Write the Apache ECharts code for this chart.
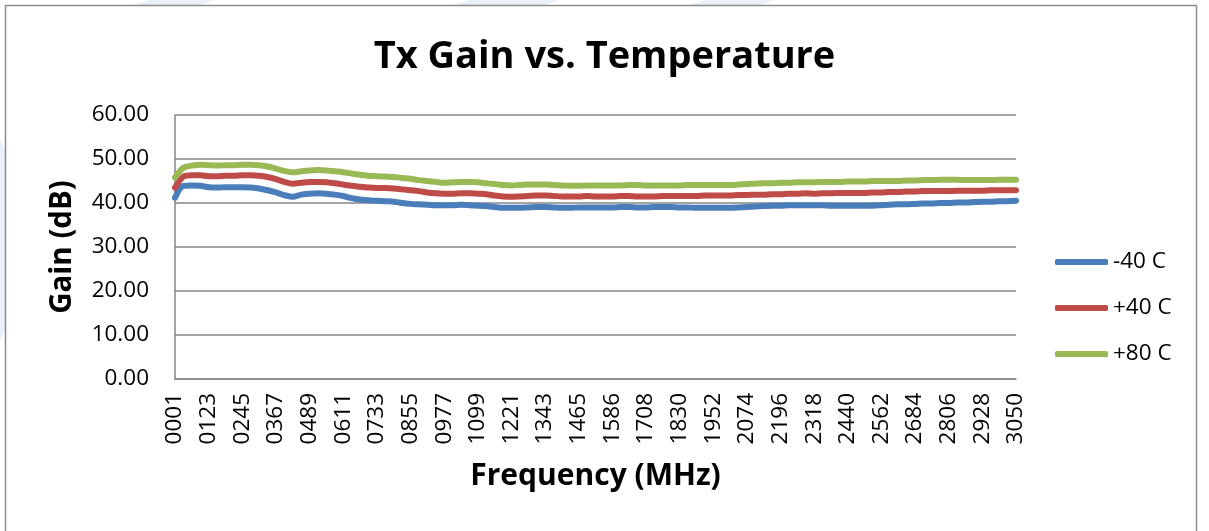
<!DOCTYPE html>
<html>
<head>
<meta charset="utf-8">
<script src="https://cdn.jsdelivr.net/npm/echarts@6/dist/echarts.min.js"></script>
<style>
html,body{margin:0;padding:0;background:#fff;}
#chart{width:1209px;height:531px;}
</style>
</head>
<body>
<div id="chart"></div>
<script>
// Frequency categories (MHz)
const categories = [
'0001','0031','0062','0092',
'0123','0153','0184','0214',
'0245','0275','0306','0336',
'0367','0397','0428','0458',
'0489','0519','0550','0580',
'0611','0641','0672','0702',
'0733','0763','0794','0824',
'0855','0885','0916','0946',
'0977','1007','1038','1068',
'1099','1129','1160','1190',
'1221','1251','1282','1312',
'1343','1373','1404','1434',
'1465','1495','1525','1556',
'1586','1616','1647','1677',
'1708','1738','1769','1799',
'1830','1860','1891','1921',
'1952','1982','2013','2043',
'2074','2104','2135','2165',
'2196','2226','2257','2287',
'2318','2348','2379','2409',
'2440','2470','2501','2531',
'2562','2592','2623','2653',
'2684','2714','2745','2775',
'2806','2836','2867','2897',
'2928','2958','2989','3019',
'3050'];

const seriesNames = ['-40 C', '+40 C', '+80 C'];

const gainM40 = [
41.2,43.9,44.0,43.9,43.6,43.5,43.6,43.6,43.6,43.5,
43.3,42.9,42.4,41.8,41.4,41.9,42.1,42.2,42.1,41.9,
41.6,41.1,40.8,40.6,40.5,40.4,40.3,40.0,39.8,39.7,
39.6,39.5,39.5,39.5,39.6,39.5,39.4,39.3,39.1,38.9,
38.9,38.9,39.0,39.1,39.1,39.0,38.9,38.9,39.0,39.0,
39.0,39.0,39.0,39.1,39.1,39.0,39.0,39.1,39.1,39.1,
39.0,39.0,38.9,38.9,38.9,38.9,38.9,39.0,39.1,39.2,
39.3,39.4,39.4,39.5,39.5,39.5,39.5,39.5,39.4,39.4,
39.4,39.4,39.4,39.4,39.5,39.6,39.7,39.7,39.8,39.9,
39.9,40.0,40.0,40.1,40.1,40.2,40.3,40.3,40.4,40.4,
40.5];

const gainP40 = [
43.5,46.0,46.3,46.3,46.1,46.1,46.2,46.2,46.3,46.3,
46.2,45.9,45.4,44.8,44.4,44.6,44.8,44.8,44.7,44.5,
44.2,43.9,43.7,43.5,43.4,43.4,43.3,43.1,42.9,42.7,
42.4,42.2,42.1,42.1,42.2,42.2,42.1,42.0,41.7,41.5,
41.4,41.5,41.6,41.7,41.7,41.6,41.5,41.5,41.5,41.6,
41.5,41.5,41.5,41.6,41.6,41.5,41.5,41.5,41.6,41.6,
41.6,41.6,41.6,41.7,41.7,41.7,41.7,41.8,41.8,41.9,
41.9,42.0,42.0,42.1,42.1,42.2,42.1,42.2,42.2,42.3,
42.3,42.3,42.3,42.4,42.4,42.5,42.5,42.6,42.6,42.7,
42.7,42.7,42.7,42.8,42.8,42.8,42.8,42.9,42.9,42.9,
42.9];

const gainP80 = [
45.8,48.0,48.5,48.7,48.6,48.5,48.6,48.6,48.7,48.7,
48.6,48.3,47.8,47.3,47.0,47.2,47.4,47.5,47.4,47.2,
47.0,46.7,46.4,46.2,46.1,46.0,45.9,45.7,45.5,45.2,
45.0,44.8,44.6,44.7,44.8,44.8,44.7,44.5,44.3,44.1,
44.0,44.1,44.2,44.2,44.2,44.1,44.0,43.9,43.9,44.0,
44.0,44.0,44.0,44.0,44.1,44.1,44.0,44.0,44.0,44.0,
44.0,44.1,44.1,44.1,44.1,44.1,44.1,44.2,44.3,44.4,
44.5,44.5,44.6,44.6,44.7,44.7,44.7,44.8,44.8,44.8,
44.9,44.9,44.9,45.0,45.0,45.0,45.0,45.1,45.1,45.2,
45.2,45.3,45.3,45.3,45.2,45.2,45.2,45.2,45.3,45.3,
45.3];

const yTicks = {min: 0, max: 60, interval: 10};
const colors = ['#4A7EBB', '#BE4B48', '#98B954'];
const FONT = 'Open Sans';

const chart = echarts.init(document.getElementById('chart'), null, {renderer: 'canvas'});
const dataSets = [gainM40, gainP40, gainP80];

chart.setOption({
  animation: false,
  backgroundColor: '#ffffff',
  color: colors,
  textStyle: {fontFamily: FONT},
  title: {
    text: 'Tx Gain vs. Temperature',
    left: 'center',
    top: 33,
    textStyle: {fontFamily: FONT, fontSize: 38, fontWeight: 'bold', color: '#000'}
  },
  legend: {
    orient: 'vertical',
    left: 1050,
    top: 245,
    itemWidth: 53,
    itemHeight: 6,
    itemGap: 22,
    icon: 'roundRect',
    data: seriesNames,
    textStyle: {fontFamily: FONT, fontSize: 22.5, color: '#000', lineHeight: 24}
  },
  grid: {left: 175, right: 193, top: 115, bottom: 152, containLabel: false},
  xAxis: {
    type: 'category',
    data: categories,
    boundaryGap: false,
    name: 'Frequency (MHz)',
    nameLocation: 'middle',
    nameGap: 82,
    nameTextStyle: {fontFamily: FONT, fontSize: 30, fontWeight: 'bold', color: '#000'},
    axisLine: {lineStyle: {color: '#868686', width: 1.5}},
    axisTick: {show: false},
    axisLabel: {interval: 3, rotate: 90, margin: 14, fontFamily: FONT, fontSize: 22.5, color: '#000'},
    splitLine: {show: false}
  },
  yAxis: {
    type: 'value',
    min: yTicks.min,
    max: yTicks.max,
    interval: yTicks.interval,
    name: 'Gain (dB)',
    nameLocation: 'middle',
    nameRotate: 90,
    nameGap: 97,
    nameTextStyle: {fontFamily: FONT, fontSize: 29.5, fontWeight: 'bold', color: '#000'},
    axisLine: {show: true, lineStyle: {color: '#868686', width: 1.5}},
    axisTick: {show: false},
    axisLabel: {margin: 26, fontFamily: FONT, fontSize: 22.5, color: '#000', formatter: v => v.toFixed(2)},
    splitLine: {lineStyle: {color: '#868686', width: 1.5}}
  },
  series: dataSets.map((d, i) => ({
    name: seriesNames[i],
    type: 'line',
    data: d,
    symbol: 'none',
    smooth: 0.3,
    lineStyle: {color: colors[i], width: 6, cap: 'round', join: 'round'},
    itemStyle: {color: colors[i]}
  })),
  graphic: [
    {type: 'polygon', silent: true, z: -10, shape: {points: [[150,0],[215,0],[200,5],[135,5]]}, style: {fill: '#eaf0f9'}},
    {type: 'polygon', silent: true, z: -10, shape: {points: [[470,0],[560,0],[545,5],[455,5]]}, style: {fill: '#eaf0f9'}},
    {type: 'polygon', silent: true, z: -10, shape: {points: [[705,0],[775,0],[760,5],[690,5]]}, style: {fill: '#eaf0f9'}},
    {type: 'polygon', silent: true, z: -10, shape: {points: [[0,140],[5,150],[5,330],[0,340]]}, style: {fill: '#eaf0f9'}},
    {type: 'rect', silent: true, z: 100, shape: {x: 5.5, y: 5.5, width: 1191, height: 540}, style: {fill: 'none', stroke: '#8c8c8c', lineWidth: 1.5}}
  ]
});
</script>
</body>
</html>
